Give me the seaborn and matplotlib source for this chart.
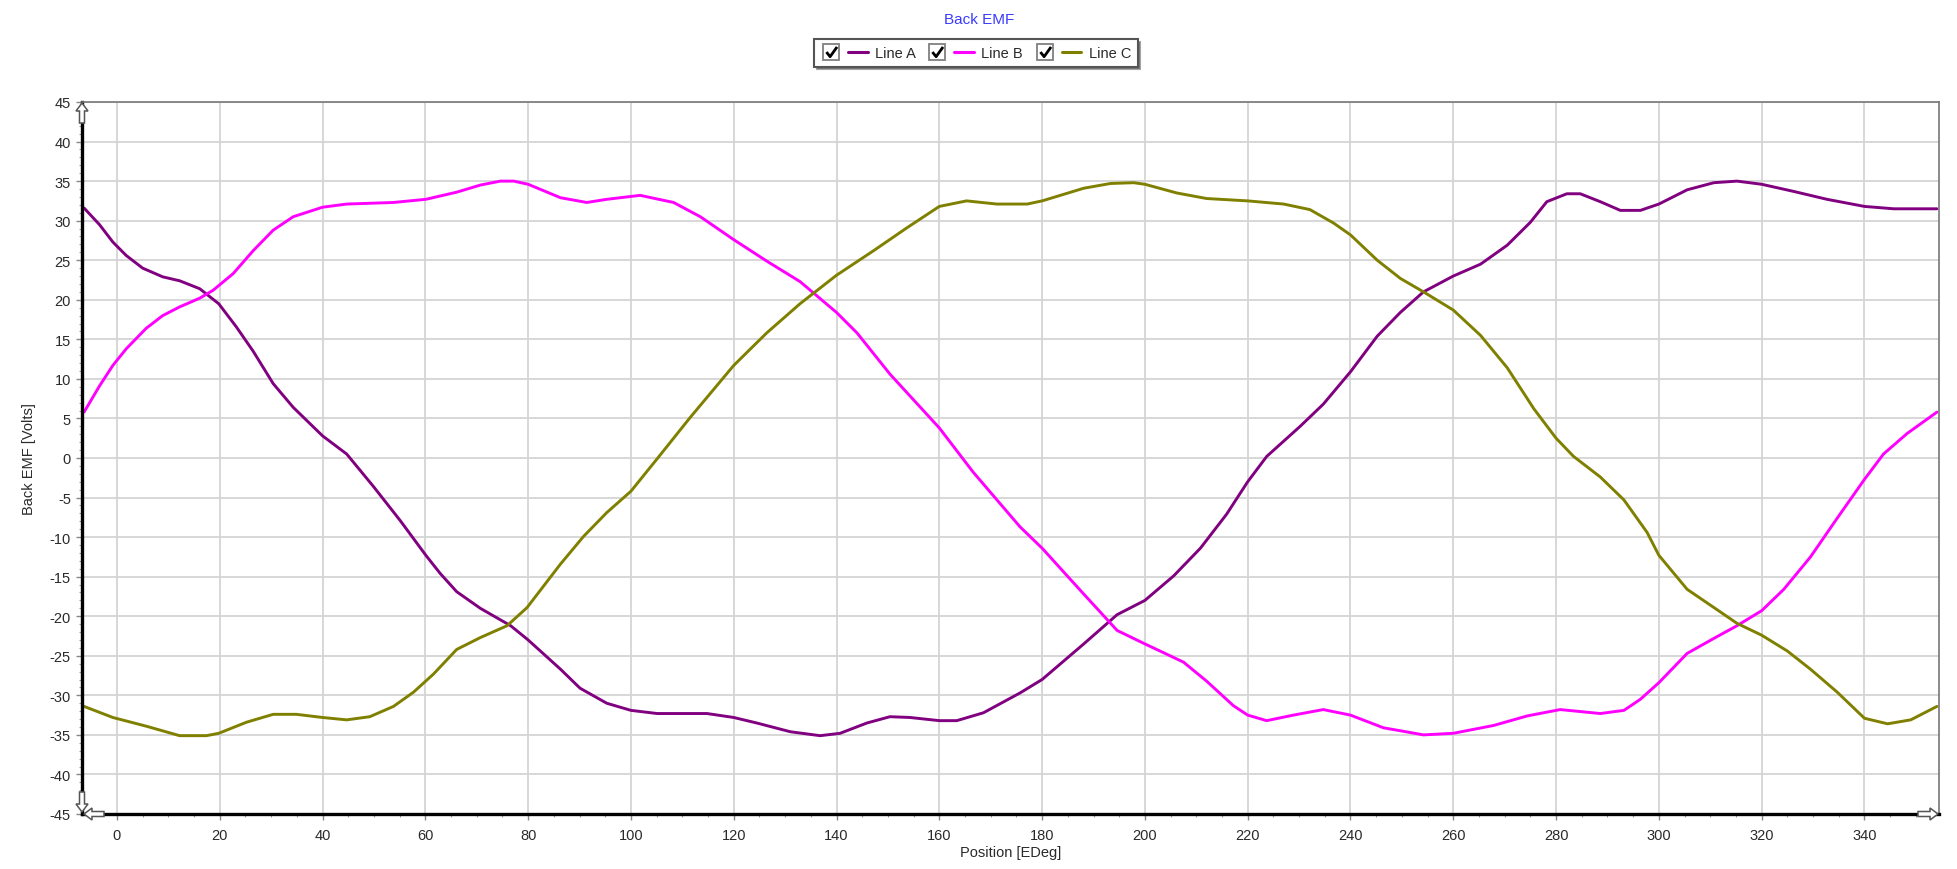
import matplotlib
matplotlib.use("Agg")
import matplotlib.pyplot as plt
import matplotlib.ticker as mticker
from matplotlib.lines import Line2D
from matplotlib.legend_handler import HandlerTuple
from matplotlib.patches import Polygon
from matplotlib.path import Path
import numpy as np
import pandas as pd
import seaborn as sns

# ---------------- data ----------------
pos_a = [-6.4, -3.4, -0.8, 1.8, 5.0, 8.9, 12.2, 16.1, 19.8, 23.2, 26.5, 30.4, 34.3, 40.0,
         44.7, 49.9, 55.1, 60.1, 62.9, 66.1, 70.7, 76.6, 80.0, 86.3, 90.1, 95.3, 100.0,
         105.1, 114.8, 120.0, 124.5, 131.0, 136.8, 140.7, 145.9, 150.4, 154.3, 160.0,
         163.4, 168.6, 175.7, 180.0, 188.1, 194.6, 200.0, 205.6, 210.8, 215.9, 220.0,
         223.7, 230.2, 234.7, 240.0, 245.2, 249.7, 254.2, 260.0, 265.3, 270.5, 275.0,
         278.2, 282.1, 284.7, 288.6, 292.5, 296.4, 300.0, 305.5, 310.7, 315.2, 320.0,
         326.2, 332.7, 340.0, 345.7, 354.1]
emf_a = [31.6, 29.5, 27.3, 25.6, 24.0, 22.9, 22.4, 21.4, 19.5, 16.6, 13.5, 9.4, 6.4, 2.8,
         0.5, -3.6, -7.9, -12.3, -14.6, -16.9, -19.0, -21.2, -23.0, -26.7, -29.1, -31.0, -31.9,
         -32.3, -32.3, -32.8, -33.5, -34.6, -35.1, -34.8, -33.5, -32.7, -32.8, -33.2,
         -33.2, -32.2, -29.7, -28.0, -23.5, -19.8, -18.0, -14.9, -11.4, -7.1, -3.0,
         0.2, 4.0, 6.8, 10.9, 15.4, 18.4, 21.0, 23.0, 24.5, 26.9, 29.8,
         32.4, 33.4, 33.4, 32.4, 31.3, 31.3, 32.1, 33.9, 34.8, 35.0, 34.6,
         33.7, 32.7, 31.8, 31.5, 31.5]

pos_b = [-6.4, -3.4, -0.8, 1.8, 5.7, 8.9, 12.2, 16.1, 18.7, 22.6, 26.5, 30.4, 34.3, 40.0,
         44.7, 53.8, 60.1, 66.1, 70.7, 74.6, 77.2, 80.0, 86.3, 91.4, 95.3, 101.8, 108.3,
         113.5, 120.0, 126.4, 132.9, 140.0, 144.0, 150.4, 160.0, 166.6, 175.7, 180.0,
         188.1, 194.6, 200.0, 207.5, 212.0, 217.2, 220.0, 223.7, 228.9, 234.7, 240.0,
         246.4, 254.2, 260.0, 267.9, 274.4, 280.8, 288.6, 293.2, 296.4, 300.0, 305.5,
         310.7, 315.2, 320.0, 324.3, 329.5, 334.7, 340.0, 343.7, 348.3, 354.1]
emf_b = [5.8, 9.1, 11.7, 13.8, 16.4, 18.0, 19.1, 20.2, 21.2, 23.3, 26.2, 28.8, 30.5, 31.7,
         32.1, 32.3, 32.7, 33.6, 34.5, 35.0, 35.0, 34.6, 32.9, 32.3, 32.7, 33.2, 32.3,
         30.5, 27.6, 24.9, 22.3, 18.4, 15.8, 10.6, 3.8, -1.8, -8.7, -11.4,
         -17.2, -21.8, -23.5, -25.8, -28.2, -31.3, -32.5, -33.2, -32.5, -31.8, -32.5,
         -34.1, -35.0, -34.8, -33.8, -32.6, -31.8, -32.3, -31.9, -30.5, -28.4, -24.7,
         -22.8, -21.2, -19.3, -16.6, -12.5, -7.6, -2.7, 0.5, 3.1, 5.8]

pos_c = [-6.4, -0.8, 5.7, 12.2, 17.4, 19.8, 25.2, 30.4, 34.9, 40.0, 44.7, 49.2, 53.8,
         57.7, 61.6, 66.1, 70.7, 75.9, 79.8, 86.3, 90.8, 95.3, 100.0, 105.1, 111.5,
         120.0, 126.4, 132.9, 140.0, 147.2, 153.7, 160.0, 165.3, 171.2, 177.1, 180.0,
         188.1, 193.3, 197.8, 200.0, 206.2, 212.0, 220.0, 227.0, 232.1, 236.7, 240.0,
         245.2, 249.7, 254.2, 260.0, 265.3, 270.5, 275.7, 280.0, 283.4, 288.6, 293.2,
         297.7, 300.0, 305.5, 310.7, 315.2, 320.0, 325.0, 329.5, 334.7, 340.0, 344.5,
         349.0, 354.1]
emf_c = [-31.4, -32.8, -33.9, -35.1, -35.1, -34.8, -33.4, -32.4, -32.4, -32.8, -33.1, -32.7, -31.4,
         -29.6, -27.3, -24.2, -22.7, -21.2, -18.9, -13.4, -9.9, -6.9, -4.2, -0.1, 5.1,
         11.7, 15.8, 19.5, 23.1, 26.2, 29.1, 31.8, 32.5, 32.1, 32.1, 32.5,
         34.1, 34.7, 34.8, 34.6, 33.5, 32.8, 32.5, 32.1, 31.4, 29.7, 28.2,
         25.0, 22.7, 21.0, 18.7, 15.5, 11.4, 6.2, 2.5, 0.2, -2.4, -5.3,
         -9.4, -12.3, -16.6, -18.9, -20.9, -22.4, -24.4, -26.7, -29.6, -32.9, -33.6,
         -33.1, -31.4]

series_names = ["Line A", "Line B", "Line C"]
series_colors = ["#800080", "#ff00ff", "#808000"]
x_ticks = list(range(0, 341, 20))
y_ticks = list(range(-45, 46, 5))

df = pd.concat([
    pd.DataFrame({"Position": pos_a, "EMF": emf_a, "Series": "Line A"}),
    pd.DataFrame({"Position": pos_b, "EMF": emf_b, "Series": "Line B"}),
    pd.DataFrame({"Position": pos_c, "EMF": emf_c, "Series": "Line C"}),
], ignore_index=True)

# ---------------- figure ----------------
sns.set_theme(style="white")
plt.rcParams["font.family"] = ["Liberation Sans", "DejaVu Sans"]
plt.rcParams["axes.unicode_minus"] = False

W, H = 1957, 870
fig = plt.figure(figsize=(W / 100, H / 100), dpi=100)
L, R, T, B = 82, 1939, 103, 815
ax = fig.add_axes([L / W, 1 - B / H, (R - L) / W, (B - T) / H])

sns.lineplot(data=df, x="Position", y="EMF", hue="Series", hue_order=series_names,
             palette=dict(zip(series_names, series_colors)), estimator=None,
             sort=False, linewidth=2.1, legend=False, ax=ax)
for ln in ax.get_lines():
    ln.set_solid_joinstyle("round")
    ln.set_solid_capstyle("round")

ax.set_xlim(-6.8, 354.5)
ax.set_ylim(-45, 45)
ax.set_xticks(x_ticks)
ax.set_yticks(y_ticks)
ax.xaxis.set_minor_locator(mticker.MultipleLocator(5))
ax.yaxis.set_minor_locator(mticker.MultipleLocator(1))

ax.grid(True, which="major", color="#d4d4d4", linewidth=1.3)
ax.set_axisbelow(True)

ax.tick_params(axis="both", which="major", direction="out", length=4, width=1,
               color="#888888", labelsize=10.5, labelcolor="#2a2a2a")
ax.tick_params(axis="both", which="minor", direction="out", length=2.5, width=0.8,
               color="#999999")
ax.tick_params(axis="y", which="major", pad=4)
ax.tick_params(axis="x", which="major", pad=6)
ax.tick_params(axis="both", which="both", bottom=True, left=True)

for side in ["top", "right"]:
    ax.spines[side].set_color("#777777")
    ax.spines[side].set_linewidth(1.2)
for side in ["left", "bottom"]:
    ax.spines[side].set_color("black")
    ax.spines[side].set_linewidth(2.4)

ax.set_xlabel("Position [EDeg]", fontsize=10.5, color="#2a2a2a", labelpad=2)
ax.set_ylabel("Back EMF [Volts]", fontsize=10.5, color="#2a2a2a", labelpad=10)


# decorative hollow axis arrows (pixel geometry of the frame decoration)
def hollow_arrow(tip_x, tip_y, direction):
    local = [(0, 0), (6, 8), (2.5, 8), (2.5, 20), (-2.5, 20), (-2.5, 8), (-6, 8)]
    pts = []
    for px, py in local:
        if direction == "up":
            dx, dy = px, py
        elif direction == "down":
            dx, dy = px, -py
        elif direction == "left":
            dx, dy = py, px
        else:
            dx, dy = -py, px
        pts.append(((tip_x + dx) / W, 1 - (tip_y + dy) / H))
    fig.patches.append(Polygon(pts, closed=True, transform=fig.transFigure,
                               facecolor="white", edgecolor="#555555",
                               linewidth=1.1, zorder=10))


hollow_arrow(L, T + 1, "up")
hollow_arrow(L, B - 2, "down")
hollow_arrow(L + 2, B, "left")
hollow_arrow(R - 1, B, "right")

# title
fig.text(979 / W, 1 - 20 / H, "Back EMF", ha="center", va="center",
         fontsize=11, color="#3a3aff")

# legend with check boxes
check_path = Path([(-0.55, 0.05), (-0.15, -0.45), (0.6, 0.6)],
                  [Path.MOVETO, Path.LINETO, Path.LINETO])
handles = []
hmap = {tuple: HandlerTuple(ndivide=None, pad=0.5)}
for c in series_colors:
    box = Line2D([], [], linestyle="none", marker="s", markersize=12,
                 markerfacecolor="white", markeredgecolor="#808080", markeredgewidth=1.3)
    chk = Line2D([], [], linestyle="none", marker=check_path, markersize=8,
                 markerfacecolor="none", markeredgecolor="black", markeredgewidth=2.0)
    ln = Line2D([], [], color=c, linewidth=2.2)
    checkbox = (box, chk)
    hmap[checkbox] = HandlerTuple(ndivide=1)
    handles.append((checkbox, ln))

leg = fig.legend(handles, series_names, ncol=3, loc="center",
                 bbox_to_anchor=(976 / W, 1 - 54 / H),
                 handler_map=hmap,
                 handlelength=3.2, handletextpad=0.5, columnspacing=0.8,
                 fontsize=10.5, frameon=True, fancybox=False, shadow=True,
                 borderpad=0.45, edgecolor="#555555")
for t in leg.get_texts():
    t.set_color("#2a2a2a")
leg.get_frame().set_linewidth(1.5)

fig.savefig("out.png", dpi=100, facecolor="white")
